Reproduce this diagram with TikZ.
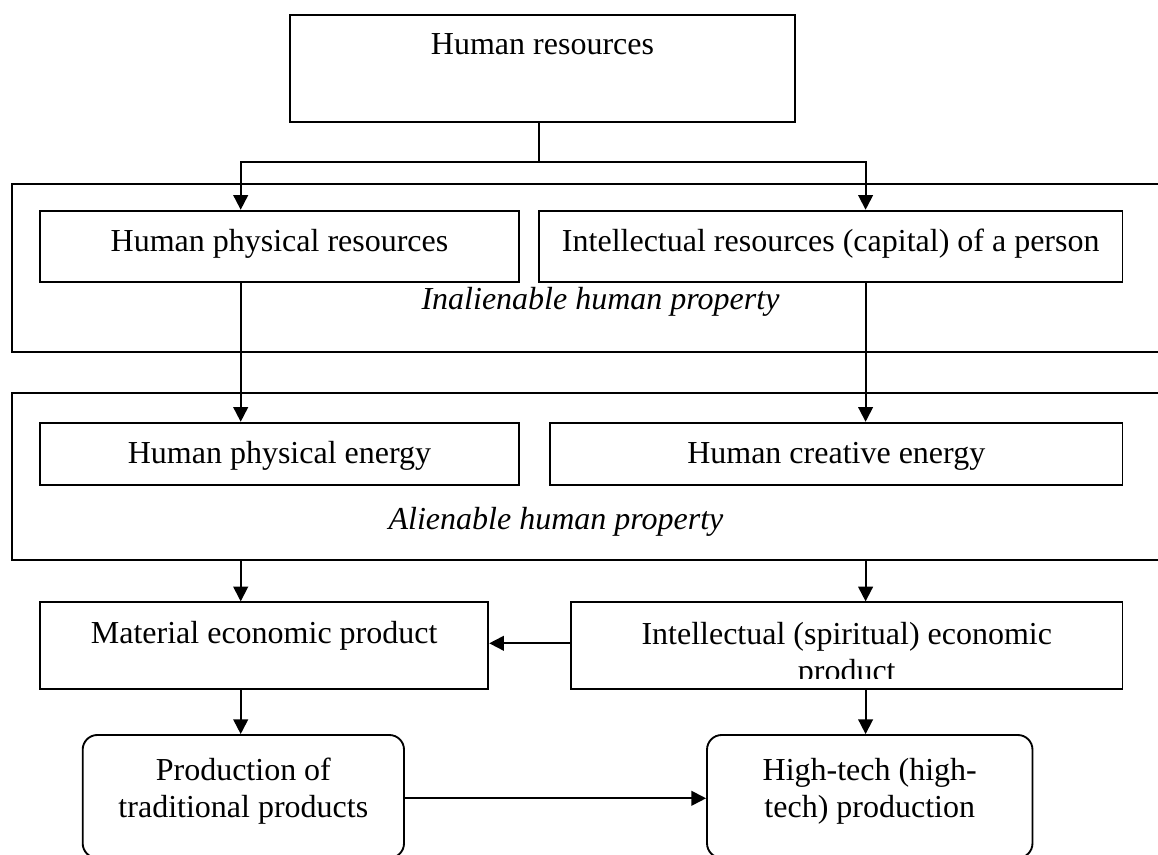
\documentclass[tikz,border=0pt]{standalone}
\usepackage{fontspec}
\setmainfont{Liberation Serif}
\usetikzlibrary{arrows.meta}
\begin{document}
\begin{tikzpicture}[x=0.75pt, y=-0.75pt,
  box/.style={draw, line width=1.4pt, inner sep=0pt},
  rbox/.style={box, rounded corners=11pt},
  txt/.style={inner sep=0pt, font=\fontsize{24}{27.6}\selectfont},
  lbl/.style={inner sep=0pt, font=\fontsize{24}{27.6}\selectfont\itshape},
  link/.style={line width=1.4pt, line join=miter},
  arr/.style={link, -{Triangle[length=11pt,width=11pt]}}]
\useasboundingbox (0,0) rectangle (1158,855);
\clip (0,0) rectangle (1158,855);

% group frames
\draw[link] (1175,184) -- (12,184) -- (12,352.3) -- (1175,352.3);
\draw[link] (1175,393) -- (12,393) -- (12,560) -- (1175,560);
\coordinate (g2b) at (12,560);
\node[lbl, anchor=base] (inal) at (600.5,309.3) {Inalienable human property};
\node[lbl, anchor=base] (alien) at (556,530) {Alienable human property};

% boxes
\node[box, minimum width=378.75pt, minimum height=80.5pt] (hr) at (542.5,68.65) {};
\node[txt, anchor=base] (hrt) at (542.5,55) {Human resources};

\node[box, minimum width=359.25pt, minimum height=53.25pt] (hpr) at (279.5,246.2) {};
\node[txt, anchor=base] (hprt) at (279.5,252) {Human physical resources};
\node[box, minimum width=437.6pt, minimum height=53.25pt] (irp) at (830.75,246.2) {};
\node[txt, anchor=base] (irpt) at (830.75,252) {Intellectual resources (capital) of a person};

\node[box, minimum width=359.25pt, minimum height=46.7pt] (hpe) at (279.5,453.85) {};
\node[txt, anchor=base] (hpet) at (279.5,464) {Human physical energy};
\node[box, minimum width=429.4pt, minimum height=46.7pt] (hce) at (836.25,453.85) {};
\node[txt, anchor=base] (hcet) at (836.25,464) {Human creative energy};

\node[box, minimum width=336.2pt, minimum height=65pt] (mep) at (264.15,645.65) {};
\node[txt, anchor=base] (mept) at (264.15,644) {Material economic product};
\node[box, minimum width=413.6pt, minimum height=65pt] (iep) at (846.75,645.65) {};
\begin{scope}
\clip (571,602) rectangle (1122,679);
\node[txt, align=center, anchor=north] (iept) at (846.75,618.24) {\strut Intellectual (spiritual) economic\\product};
\end{scope}

\node[rbox, minimum width=241pt, minimum height=92.25pt] (ptp) at (243.35,796.5) {};
\node[txt, align=center, anchor=north] (ptpt) at (243.35,754.24) {\strut Production of\\traditional products};
\node[rbox, minimum width=244.1pt, minimum height=92.25pt] (htp) at (869.75,796.5) {};
\node[txt, align=center, anchor=north] (htpt) at (869.75,754.24) {\strut High-tech (high-\\tech) production};

% connectors
\coordinate (jC) at (539.3,162.3);
\coordinate (jL) at (240.7,162.3);
\coordinate (jR) at (865.6,162.3);
\coordinate (hA) at (0,643.3);
\coordinate (hB) at (0,798.3);
\draw[link] (jC |- hr.south) -- (jC);
\draw[arr] (jC) -- (jL) -- (jL |- hpr.north);
\draw[arr] (jC) -- (jR) -- (jR |- irp.north);
\draw[arr] (jL |- hpr.south) -- (jL |- hpe.north);
\draw[arr] (jR |- irp.south) -- (jR |- hce.north);
\draw[arr] (jL |- g2b) -- (jL |- mep.north);
\draw[arr] (jR |- g2b) -- (jR |- iep.north);
\draw[arr] (iep.west |- hA) -- (mep.east |- hA);
\draw[arr] (jL |- mep.south) -- (jL |- ptp.north);
\draw[arr] (jR |- iep.south) -- (jR |- htp.north);
\draw[arr] (ptp.east |- hB) -- (htp.west |- hB);
\end{tikzpicture}
\end{document}
